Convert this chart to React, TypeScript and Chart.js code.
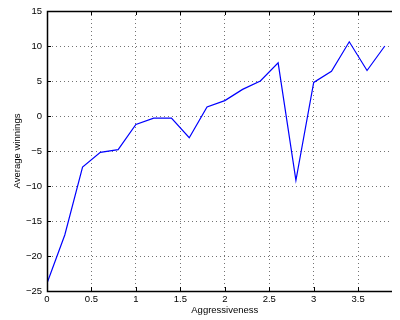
import React, { useEffect, useRef } from "react";
import { Chart, registerables } from "chart.js";

Chart.register(...registerables);

const xValues = [0, 0.2, 0.4, 0.6, 0.8, 1.0, 1.2, 1.4, 1.6, 1.8, 2.0, 2.2, 2.4, 2.6, 2.8, 3.0, 3.2, 3.4, 3.6, 3.8];
const yValues = [-23.9, -17.0, -7.3, -5.2, -4.8, -1.2, -0.3, -0.3, -3.1, 1.3, 2.2, 3.8, 5.0, 7.6, -9.2, 4.8, 6.4, 10.6, 6.5, 10.0];

const xMin = 0;
const xMax = 4;
const xStep = 0.5;
const yMin = -25;
const yMax = 15;
const yStep = 5;

const xTitle = "Aggressiveness";
const yTitle = "Average winnings";

const FONT = "'Liberation Sans', Arial, Helvetica, sans-serif";

const boxPlugin = {
  id: "matlabBox",
  afterDraw(chart: any) {
    const { ctx, chartArea } = chart;
    const left = Math.round(chartArea.left);
    const right = Math.round(chartArea.right);
    const top = Math.round(chartArea.top);
    const bottom = Math.round(chartArea.bottom);
    ctx.save();
    ctx.setLineDash([]);
    ctx.strokeStyle = "#000";
    // inward tick marks
    ctx.lineWidth = 1;
    const tl = 4;
    const xs = chart.scales.x;
    const ys = chart.scales.y;
    ctx.beginPath();
    xs.ticks.forEach((t: any) => {
      const px = Math.round(xs.getPixelForValue(t.value)) + 0.5;
      ctx.moveTo(px, bottom);
      ctx.lineTo(px, bottom - tl);
      ctx.moveTo(px, top);
      ctx.lineTo(px, top + tl);
    });
    ys.ticks.forEach((t: any) => {
      const py = Math.round(ys.getPixelForValue(t.value)) + 0.5;
      ctx.moveTo(left, py);
      ctx.lineTo(left + tl, py);
      ctx.moveTo(right, py);
      ctx.lineTo(right - tl, py);
    });
    ctx.stroke();
    // axes box
    ctx.lineWidth = 1.5;
    ctx.beginPath();
    ctx.rect(left + 0.5, top + 0.5, right - left - 1, bottom - top);
    ctx.stroke();
    ctx.restore();
  },
};

export default function App() {
  const ref = useRef<HTMLCanvasElement | null>(null);

  useEffect(() => {
    if (!ref.current) return;
    const points = xValues.map((x, i) => ({ x, y: yValues[i] }));
    const chart = new Chart(ref.current, {
      type: "line",
      data: {
        datasets: [
          {
            data: points,
            borderColor: "#0000ff",
            borderWidth: 1.2,
            pointRadius: 0,
            fill: false,
            tension: 0,
          },
        ],
      },
      options: {
        responsive: false,
        animation: false,
        devicePixelRatio: 1,
        layout: { padding: { top: 3, left: 0, right: 25.4, bottom: 0 } },
        plugins: {
          legend: { display: false },
          tooltip: { enabled: false },
        },
        scales: {
          x: {
            type: "linear",
            min: xMin,
            max: xMax,
            afterFit(scale: any) {
              scale.height = 29;
              scale.paddingLeft = 0;
              scale.paddingRight = 0;
            },
            ticks: {
              stepSize: xStep,
              color: "#000",
              padding: 3,
              maxRotation: 0,
              autoSkip: false,
              font: { family: FONT, size: 9.5 },
              callback: (v: any) => String(Math.round(Number(v) * 10) / 10),
            },
            grid: {
              color: "rgba(0,0,0,0.55)",
              drawTicks: false,
              lineWidth: 1,
            },
            border: { color: "#000", width: 1, dash: [1, 3], display: true },
            title: {
              display: true,
              text: xTitle,
              color: "#000",
              font: { family: FONT, size: 9.5 },
              padding: { top: 0, bottom: 4 },
            },
          },
          y: {
            type: "linear",
            min: yMin,
            max: yMax,
            afterFit(scale: any) {
              scale.width = 39;
              scale.paddingTop = 0;
              scale.paddingBottom = 0;
            },
            ticks: {
              stepSize: yStep,
              color: "#000",
              padding: 5,
              font: { family: FONT, size: 9.5 },
              callback: (v: any) => String(v).replace("-", "\u2212"),
            },
            grid: {
              color: "rgba(0,0,0,0.55)",
              drawTicks: false,
              lineWidth: 1,
            },
            border: { color: "#000", width: 1, dash: [1, 3], display: true },
            title: {
              display: true,
              text: yTitle,
              color: "#000",
              font: { family: FONT, size: 9.5 },
              padding: { top: 4, bottom: 0 },
            },
          },
        },
      },
      plugins: [boxPlugin],
    } as any);
    return () => chart.destroy();
  }, []);

  return (
    <div style={{ width: 392, height: 312, overflow: "hidden", background: "#fff" }}>
      <canvas ref={ref} width={420} height={312} style={{ display: "block" }} />
    </div>
  );
}
